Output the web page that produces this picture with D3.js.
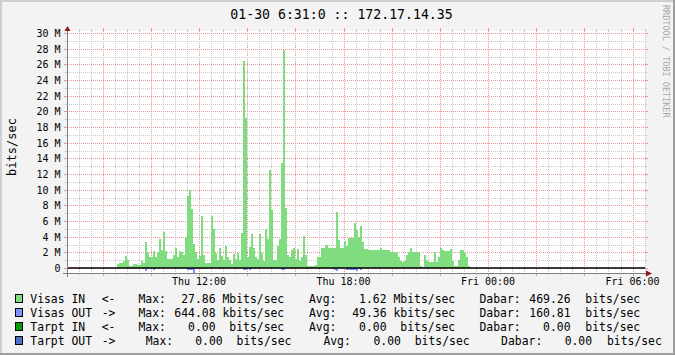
<!DOCTYPE html>
<html>
<head>
<meta charset="utf-8">
<script src="https://cdn.jsdelivr.net/npm/d3@7"></script>
<style>
  body { margin: 0; background: #f3f3f3; }
  svg text { font-family: "DejaVu Sans Mono", monospace; fill: #000; }
</style>
</head>
<body>
<div id="chart"></div>
<script>

  // 5 minute samples, Mbits/sec, starting at firstSample
  var firstSample = "2009-01-29 08:35";
  var stepMinutes = 5;

  var visasIn = [
    0.5, 0.6, 0.7, 0.9, 1.5, 1.0, 0.2, 0.2, 0.5, 0.5,
    0.35, 0.35, 0.9, 0.6, 3.3, 1.9, 1.4, 1.4, 2.2, 1.4,
    2.0, 3.7, 2.3, 4.6, 2.2, 1.2, 1.2, 1.2, 1.7, 2.6,
    1.4, 2.2, 2.0, 1.6, 4.0, 9.2, 10.0, 7.5, 3.1, 2.0,
    1.1, 1.5, 6.6, 1.6, 0.6, 0.7, 0.7, 6.6, 5.0, 1.9,
    1.0, 2.6, 1.5, 1.0, 2.8, 1.4, 1.0, 0.5, 1.8, 1.2,
    1.9, 1.0, 4.5, 26.4, 19.1, 1.4, 2.7, 4.4, 2.6, 1.4,
    1.2, 4.4, 1.9, 0.9, 5.0, 3.7, 12.5, 7.4, 1.0, 1.0,
    2.8, 3.7, 13.4, 27.86, 7.6, 1.7, 1.4, 2.3, 2.6, 1.1,
    2.4, 0.9, 1.4, 4.1, 1.6, 0.2, 0.2, 0.2, 0.2, 0.4,
    1.4, 1.4, 2.5, 2.5, 2.9, 2.6, 2.6, 2.6, 2.5, 7.2,
    3.6, 2.5, 2.6, 3.5, 2.8, 3.8, 3.8, 3.8, 5.8, 4.8,
    3.9, 5.4, 3.3, 2.4, 2.4, 2.3, 2.3, 2.3, 2.3, 2.3,
    2.3, 2.5, 2.3, 2.3, 2.3, 2.3, 2.1, 2.1, 2.1, 2.1,
    1.4, 0.9, 0.8, 0.9, 1.7, 2.0, 2.5, 2.0, 2.1, 2.1,
    2.1, 0.2, 0.1, 1.7, 1.0, 0.8, 0.8, 0.8, 2.0, 0.8,
    1.4, 2.5, 2.3, 2.2, 2.2, 2.2, 2.4, 0.9, 0.2, 0.2,
    1.0, 2.3, 2.3, 1.9, 1.4, 0.2
  ];

  // drawn below zero
  var visasOut = [
    0, 0, 0, 0, 0, 0, 0, 0, 0, 0,
    0, 0, 0, 0, 0.38, 0, 0, 0, 0.2, 0,
    0, 0, 0, 0, 0, 0, 0, 0, 0, 0,
    0, 0, 0, 0, 0, 0.2, 0.2, 0.2, 0.64, 0,
    0, 0, 0.15, 0, 0, 0, 0, 0, 0, 0,
    0, 0.15, 0, 0, 0, 0, 0, 0, 0.15, 0,
    0, 0, 0, 0.2, 0.2, 0, 0.2, 0, 0, 0,
    0, 0, 0, 0, 0, 0, 0, 0, 0, 0,
    0, 0, 0.2, 0.2, 0, 0, 0, 0, 0, 0,
    0, 0, 0, 0, 0, 0, 0, 0, 0, 0,
    0, 0, 0, 0, 0, 0, 0, 0, 0.2, 0.35,
    0, 0, 0, 0, 0.2, 0.2, 0.2, 0.2, 0.2, 0.38,
    0, 0.2, 0, 0, 0, 0, 0, 0, 0, 0,
    0, 0, 0, 0, 0, 0, 0, 0, 0, 0,
    0, 0, 0, 0, 0, 0, 0, 0, 0, 0,
    0, 0, 0, 0, 0, 0, 0, 0, 0, 0,
    0, 0, 0, 0, 0, 0, 0, 0, 0, 0,
    0, 0, 0, 0, 0, 0
  ];

  var title = "01-30 6:31:0 :: 172.17.14.35";
  var yTitle = "bits/sec";
  var watermark = "RRDTOOL / TOBI OETIKER";
  var timeStart = "2009-01-29 06:31";
  var timeEnd = "2009-01-30 06:31";
  var yMajorTicks = [0, 2, 4, 6, 8, 10, 12, 14, 16, 18, 20, 22, 24, 26, 28, 30];
  var yMinorTicks = [1, 3, 5, 7, 9, 11, 13, 15, 17, 19, 21, 23, 25, 27, 29];
  var yMax = 30.27;

  var legendNames = ["Visas IN", "Visas OUT", "Tarpt IN", "Tarpt OUT"];
  var legendArrows = ["<-", "->", "<-", "->"];
  var legendColors = ["#7fdc7f", "#8090ff", "#00a000", "#5070c8"];
  var legendMax = ["27.86", "644.08", "0.00", "0.00"];
  var legendMaxUnit = ["Mbits/sec", "kbits/sec", " bits/sec", " bits/sec"];
  var legendAvg = ["1.62", "49.36", "0.00", "0.00"];
  var legendAvgUnit = ["Mbits/sec", "kbits/sec", " bits/sec", " bits/sec"];
  var legendLast = ["469.26", "160.81", "0.00", "0.00"];
  var legendLastUnit = [" bits/sec", " bits/sec", " bits/sec", " bits/sec"];

  var width = 675, height = 355;
  var plot = { left: 67, right: 645, top: 31, bottom: 273 };

  var parse = d3.timeParse("%Y-%m-%d %H:%M");
  var t0 = parse(firstSample);
  var samples = visasIn.map(function (v, i) {
    return {
      t: d3.timeMinute.offset(t0, i * stepMinutes),
      t2: d3.timeMinute.offset(t0, (i + 1) * stepMinutes),
      vin: v,
      vout: visasOut[i]
    };
  });

  var xScale = d3.scaleTime()
    .domain([parse(timeStart), parse(timeEnd)])
    .range([plot.left, plot.right]);

  var yScale = d3.scaleLinear()
    .domain([-d3.max(visasOut), yMax])
    .range([plot.bottom, plot.top]);

  var svg = d3.select("#chart").append("svg")
    .attr("width", width)
    .attr("height", height);

  // background and 3d frame
  svg.append("rect").attr("width", width).attr("height", height).attr("fill", "#f3f3f3");
  svg.append("rect").attr("x", 0).attr("y", 0).attr("width", width).attr("height", 2).attr("fill", "#cfcfcf");
  svg.append("rect").attr("x", 0).attr("y", 0).attr("width", 2).attr("height", height).attr("fill", "#cfcfcf");
  svg.append("rect").attr("x", 0).attr("y", height - 2).attr("width", width).attr("height", 2).attr("fill", "#9e9e9e");
  svg.append("rect").attr("x", width - 2).attr("y", 0).attr("width", 2).attr("height", height).attr("fill", "#9e9e9e");

  svg.append("rect")
    .attr("x", plot.left).attr("y", plot.top)
    .attr("width", plot.right - plot.left).attr("height", plot.bottom - plot.top)
    .attr("fill", "#fff");

  var grid = svg.append("g").attr("shape-rendering", "crispEdges");
  var minorCol = "#c8c8c8", majorCol = "#e89494";

  function px(v) { return Math.round(v) + 0.5; }

  // vertical grid: minor every 30 min, major every 2 hours
  var xDomain = xScale.domain();
  var minorTimes = d3.timeMinute.every(30).range(xDomain[0], xDomain[1])
    .filter(function (d) { return !(d.getMinutes() === 0 && d.getHours() % 2 === 0); });
  var majorTimes = d3.timeHour.every(2).range(xDomain[0], xDomain[1]);

  function vLines(times, col, tick) {
    times.forEach(function (d) {
      var x = px(xScale(d));
      grid.append("line").attr("x1", x).attr("x2", x).attr("y1", plot.top).attr("y2", plot.bottom)
        .attr("stroke", col).attr("stroke-dasharray", "1,1");
      grid.append("line").attr("x1", x).attr("x2", x).attr("y1", plot.bottom).attr("y2", plot.bottom + tick)
        .attr("stroke", col);
      grid.append("line").attr("x1", x).attr("x2", x).attr("y1", plot.top - tick).attr("y2", plot.top)
        .attr("stroke", col);
    });
  }
  vLines(minorTimes, minorCol, 2);
  vLines(majorTimes, majorCol, 3);

  function hLines(vals, col, tick) {
    vals.forEach(function (v) {
      var y = px(yScale(v));
      grid.append("line").attr("x1", plot.left).attr("x2", plot.right).attr("y1", y).attr("y2", y)
        .attr("stroke", col).attr("stroke-dasharray", "1,1");
      grid.append("line").attr("x1", plot.left - tick).attr("x2", plot.left).attr("y1", y).attr("y2", y)
        .attr("stroke", col);
      grid.append("line").attr("x1", plot.right).attr("x2", plot.right + tick).attr("y1", y).attr("y2", y)
        .attr("stroke", col);
    });
  }
  hLines(yMinorTicks, minorCol, 2);
  hLines(yMajorTicks, majorCol, 3);

  // areas
  var bars = svg.append("g").attr("shape-rendering", "crispEdges");
  bars.selectAll(".in")
    .data(samples)
    .enter().append("rect")
    .attr("class", "in")
    .attr("x", function (d) { return xScale(d.t); })
    .attr("width", function (d) { return xScale(d.t2) - xScale(d.t); })
    .attr("y", function (d) { return yScale(d.vin); })
    .attr("height", function (d) { return yScale(0) - yScale(d.vin); })
    .attr("fill", legendColors[0]);

  bars.selectAll(".out")
    .data(samples.filter(function (d) { return d.vout > 0; }))
    .enter().append("rect")
    .attr("class", "out")
    .attr("x", function (d) { return xScale(d.t); })
    .attr("width", function (d) { return xScale(d.t2) - xScale(d.t); })
    .attr("y", yScale(0))
    .attr("height", function (d) { return yScale(-d.vout) - yScale(0); })
    .attr("fill", legendColors[1]);

  // zero rule
  svg.append("line")
    .attr("x1", plot.left).attr("x2", plot.right)
    .attr("y1", yScale(0)).attr("y2", yScale(0))
    .attr("stroke", "#000").attr("stroke-width", 1.6);

  // axes with arrows
  var axisCol = "#808080", arrowCol = "#8b1a1a";
  svg.append("line").attr("shape-rendering", "crispEdges")
    .attr("x1", plot.left - 4).attr("x2", plot.right + 2)
    .attr("y1", px(plot.bottom)).attr("y2", px(plot.bottom))
    .attr("stroke", axisCol);
  svg.append("line").attr("shape-rendering", "crispEdges")
    .attr("x1", px(plot.left)).attr("x2", px(plot.left))
    .attr("y1", plot.bottom + 4).attr("y2", plot.top)
    .attr("stroke", axisCol);
  var bx = plot.right + 1, by = px(plot.bottom);
  svg.append("path")
    .attr("d", "M" + bx + "," + (by - 3) + "L" + (bx + 6) + "," + by + "L" + bx + "," + (by + 3) + "Z")
    .attr("fill", arrowCol);
  var ax = px(plot.left), ay = plot.top;
  svg.append("path")
    .attr("d", "M" + (ax - 3) + "," + ay + "L" + ax + "," + (ay - 5) + "L" + (ax + 3) + "," + ay + "Z")
    .attr("fill", arrowCol);

  // labels
  var labelTimes = d3.timeHour.every(6).range(xDomain[0], xDomain[1]);
  var fmt = d3.timeFormat("%a %H:%M");
  svg.selectAll(".xlab")
    .data(labelTimes)
    .enter().append("text")
    .attr("class", "xlab")
    .attr("x", function (d) { return xScale(d); })
    .attr("y", 285)
    .attr("text-anchor", "middle")
    .attr("font-size", "10px")
    .text(function (d) { return fmt(d); });

  svg.selectAll(".ylab")
    .data(yMajorTicks)
    .enter().append("text")
    .attr("class", "ylab")
    .attr("x", 60.5)
    .attr("y", function (d) { return yScale(d) + 4; })
    .attr("text-anchor", "end")
    .attr("font-size", "10px")
    .text(function (d) { return d === 0 ? "0" : d + " M"; });

  svg.append("text")
    .attr("x", 341.5).attr("y", 18.5)
    .attr("text-anchor", "middle")
    .attr("font-size", "13.2px")
    .text(title);

  svg.append("text")
    .attr("transform", "translate(15.5,147) rotate(-90)")
    .attr("text-anchor", "middle")
    .attr("font-size", "12px")
    .text(yTitle);

  svg.append("text")
    .attr("transform", "translate(663,5) rotate(90)")
    .attr("font-size", "8.5px")
    .style("fill", "#a8a8a8")
    .text(watermark);

  // legend
  var lg = svg.append("g").attr("font-size", "11.4px").style("white-space", "pre");
  legendNames.forEach(function (name, r) {
    var y = 302.5 + r * 14;
    // last row is pushed right by rrdtool's tab stops
    var shift = r === 3 ? 7.2 : 0;
    lg.append("rect")
      .attr("x", 15.5).attr("y", y - 8).attr("width", 7).attr("height", 8)
      .attr("fill", legendColors[r]).attr("stroke", "#000").attr("shape-rendering", "crispEdges");
    function t(x, s, anchor) {
      lg.append("text").attr("x", x).attr("y", y)
        .attr("text-anchor", anchor || "start")
        .attr("xml:space", "preserve")
        .text(s);
    }
    t(30.3, name);
    t(101.7, legendArrows[r]);
    t(138.5 + shift, "Max:");
    t(215.5 + shift, legendMax[r], "end");
    t(222.5 + shift, legendMaxUnit[r]);
    t(309 + shift * 2, "Avg:");
    t(386.5 + shift * 2, legendAvg[r], "end");
    t(393.5 + shift * 2, legendAvgUnit[r]);
    t(479.5 + shift * 3, "Dabar:");
    t(570.5 + shift * 3, legendLast[r], "end");
    t(578.5 + shift * 3, legendLastUnit[r]);
  });

</script>
</body>
</html>
